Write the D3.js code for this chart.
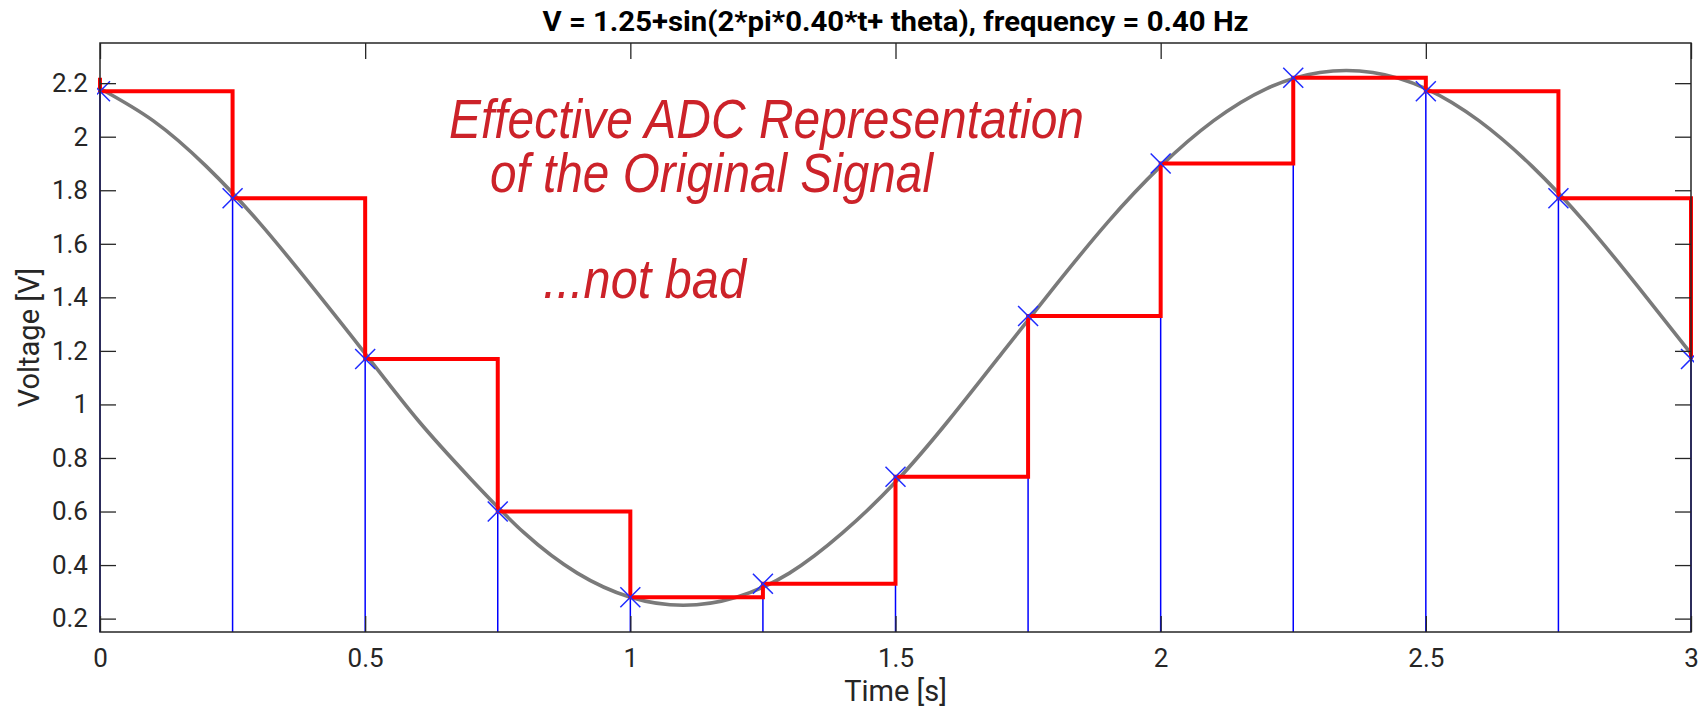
<!DOCTYPE html>
<html>
<head>
<meta charset="utf-8">
<script src="https://cdn.jsdelivr.net/npm/d3@7"></script>
<style>
  html, body { margin: 0; padding: 0; background: #fff; }
  svg text { font-family: Roboto, "Liberation Sans", sans-serif; }
</style>
</head>
<body>
<div id="chart"></div>
<script>
// continuous signal (every 0.1 s)
const curveT = [0, 0.1, 0.2, 0.3, 0.4, 0.5, 0.6, 0.7, 0.8, 0.9, 1.0, 1.1, 1.2, 1.3, 1.4, 1.5,
  1.6, 1.7, 1.8, 1.9, 2.0, 2.1, 2.2, 2.3, 2.4, 2.5, 2.6, 2.7, 2.8, 2.9, 3.0]
const curveV = [2.18, 2.06, 1.89, 1.68, 1.44, 1.19, 0.94, 0.72, 0.52, 0.37, 0.28, 0.25, 0.28, 0.37, 0.52, 0.71,
  0.94, 1.19, 1.44, 1.68, 1.89, 2.06, 2.18, 2.24, 2.24, 2.18, 2.06, 1.89, 1.68, 1.44, 1.19]

// ADC samples (blue stems / markers, red hold)
const sampleT = [0, 0.25, 0.5, 0.75, 1.0, 1.25, 1.5, 1.75, 2.0, 2.25, 2.5, 2.75, 3.0]
const sampleV = [2.17, 1.77, 1.17, 0.60, 0.28, 0.33, 0.73, 1.33, 1.90, 2.22, 2.17, 1.77, 1.17]
const holdStart = 2.22

const xTicks = [0, 0.5, 1, 1.5, 2, 2.5, 3]
const yTicks = [0.2, 0.4, 0.6, 0.8, 1, 1.2, 1.4, 1.6, 1.8, 2, 2.2]

const width = 1704, height = 711
const marginLeft = 100, marginRight = 13, marginTop = 43, marginBottom = 79
const tickLen = 16
const axisColor = "#262626"

const x = d3.scaleLinear().domain([0, 3]).range([marginLeft, width - marginRight])
const y = d3.scaleLinear().domain([0.15, 2.35]).range([height - marginBottom, marginTop])

const svg = d3.create("svg")
  .attr("viewBox", [0, 0, width, height])
  .attr("width", width)
  .attr("height", height)

svg.append("defs").append("clipPath").attr("id", "plot-clip")
  .append("rect")
  .attr("x", marginLeft - 3).attr("y", marginTop - 12)
  .attr("width", width - marginLeft - marginRight + 6)
  .attr("height", height - marginTop - marginBottom + 12)

const plot = svg.append("g").attr("clip-path", "url(#plot-clip)")

// stems
plot.append("g")
  .selectAll("line")
  .data(sampleT)
  .join("line")
  .attr("x1", d => x(d)).attr("x2", d => x(d))
  .attr("y1", y(0.15))
  .attr("y2", (d, i) => y(sampleV[i]))
  .attr("stroke", "#0000ff")
  .attr("stroke-width", 1.5)

// grey original signal
plot.append("path")
  .datum(d3.zip(curveT, curveV))
  .attr("fill", "none")
  .attr("stroke", "#7a7a7a")
  .attr("stroke-width", 3.6)
  .attr("d", d3.line().x(d => x(d[0])).y(d => y(d[1])).curve(d3.curveNatural))

// red zero-order hold
const hold = [[0, holdStart]].concat(d3.zip(sampleT, sampleV))
plot.append("path")
  .datum(hold)
  .attr("fill", "none")
  .attr("stroke", "#ff0000")
  .attr("stroke-width", 4)
  .attr("d", d3.line().x(d => x(d[0])).y(d => y(d[1])).curve(d3.curveStepAfter))

// x markers
const ms = 10
plot.append("g")
  .selectAll("path")
  .data(sampleT)
  .join("path")
  .attr("transform", (d, i) => `translate(${x(d)},${y(sampleV[i])})`)
  .attr("d", `M${-ms},${-ms}L${ms},${ms}M${-ms},${ms}L${ms},${-ms}`)
  .attr("stroke", "#1f2bff")
  .attr("stroke-width", 1.5)

// axes: box with inward ticks on all sides
const xAxisB = d3.axisBottom(x).tickValues(xTicks).tickSizeInner(-tickLen).tickSizeOuter(0)
  .tickPadding(17).tickFormat(d3.format("~g"))
const xAxisT = d3.axisTop(x).tickValues(xTicks).tickSizeInner(-tickLen).tickSizeOuter(0).tickFormat("")
const yAxisL = d3.axisLeft(y).tickValues(yTicks).tickSizeInner(-tickLen).tickSizeOuter(0)
  .tickPadding(12).tickFormat(d3.format("~g"))
const yAxisR = d3.axisRight(y).tickValues(yTicks).tickSizeInner(-tickLen).tickSizeOuter(0).tickFormat("")

const styleAxis = g => {
  g.select(".domain").remove()
  g.selectAll(".tick line").attr("stroke", axisColor).attr("stroke-width", 1.3)
  g.selectAll(".tick text").attr("fill", axisColor).style("font-size", "26px")
    .style("font-family", "Roboto")
}

svg.append("g").attr("transform", `translate(0,${height - marginBottom})`).call(xAxisB).call(styleAxis)
svg.append("g").attr("transform", `translate(0,${marginTop})`).call(xAxisT).call(styleAxis)
svg.append("g").attr("transform", `translate(${marginLeft},0)`).call(yAxisL).call(styleAxis)
svg.append("g").attr("transform", `translate(${width - marginRight},0)`).call(yAxisR).call(styleAxis)

svg.append("rect")
  .attr("x", marginLeft).attr("y", marginTop)
  .attr("width", width - marginLeft - marginRight)
  .attr("height", height - marginTop - marginBottom)
  .attr("fill", "none")
  .attr("stroke", axisColor)
  .attr("stroke-width", 1.5)

// labels
svg.append("text")
  .attr("x", (marginLeft + width - marginRight) / 2)
  .attr("y", 31)
  .attr("text-anchor", "middle")
  .attr("fill", "#000")
  .attr("textLength", 706)
  .attr("lengthAdjust", "spacingAndGlyphs")
  .style("font-size", "27px")
  .style("font-weight", "bold")
  .text("V = 1.25+sin(2*pi*0.40*t+ theta), frequency = 0.40 Hz")

svg.append("text")
  .attr("x", (marginLeft + width - marginRight) / 2)
  .attr("y", 701)
  .attr("text-anchor", "middle")
  .attr("fill", axisColor)
  .style("font-size", "29px")
  .text("Time [s]")

svg.append("text")
  .attr("transform", `translate(39,${(marginTop + height - marginBottom) / 2}) rotate(-90)`)
  .attr("text-anchor", "middle")
  .attr("fill", axisColor)
  .style("font-size", "29px")
  .text("Voltage [V]")

// annotation
const note = svg.append("g")
  .attr("fill", "#cc2229")
  .style("font-style", "italic")
  .style("font-size", "55px")
const noteText = (tx, ty, len, s) => note.append("text")
  .attr("x", tx).attr("y", ty)
  .attr("textLength", len).attr("lengthAdjust", "spacingAndGlyphs")
  .style("font-family", "'Liberation Sans', Arial, sans-serif")
  .text(s)
noteText(449, 138, 635, "Effective ADC Representation")
noteText(490, 192, 443, "of the Original Signal")
noteText(543, 298, 203, "...not bad")

document.querySelector("#chart").append(svg.node())
</script>
</body>
</html>
